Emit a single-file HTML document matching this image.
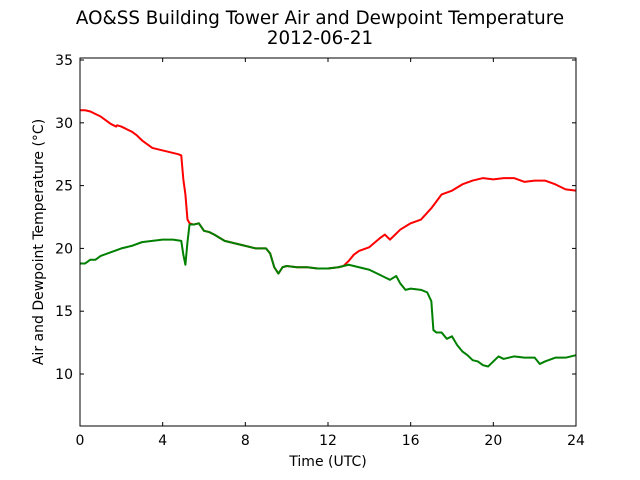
<!DOCTYPE html>
<html><head><meta charset="utf-8"><style>
body{margin:0;background:#fff}
svg{display:block;font-family:"DejaVu Sans","Liberation Sans",sans-serif}
</style></head><body>
<svg id="chart" width="640" height="480">
<rect width="640" height="480" fill="#fff"/>
<text x="320" y="24" text-anchor="middle" font-size="18.3">AO&amp;SS Building Tower Air and Dewpoint Temperature</text>
<text x="320" y="44" text-anchor="middle" font-size="18.3">2012-06-21</text>
<g id="plot"></g>
<text x="328" y="466" text-anchor="middle" font-size="14">Time (UTC)</text>
<text transform="translate(43,242) rotate(-90)" text-anchor="middle" font-size="14">Air and Dewpoint Temperature (°C)</text>
</svg>
<script>
const xTicks=[0,4,8,12,16,20,24];
const yTicks=[10,15,20,25,30,35];
const airTime=[0,0.25,0.5,0.75,1,1.25,1.5,1.75,1.8,2,2.25,2.5,2.75,3,3.25,3.5,3.75,4,4.25,4.5,4.75,4.9,5,5.1,5.2,5.3,5.5,5.75,6,6.25,6.5,7,7.5,8,8.5,9,9.2,9.4,9.6,9.8,10,10.5,11,11.5,12,12.5,12.75,13,13.25,13.5,14,14.5,14.75,15,15.5,16,16.5,17,17.5,18,18.5,19,19.5,20,20.5,21,21.5,22,22.5,23,23.5,24];
const airTemp=[31.0,31.0,30.9,30.7,30.5,30.2,29.9,29.7,29.8,29.7,29.5,29.3,29.0,28.6,28.3,28.0,27.9,27.8,27.7,27.6,27.5,27.4,25.5,24.3,22.3,22.0,21.9,22.0,21.4,21.3,21.1,20.6,20.4,20.2,20.0,20.0,19.6,18.5,18.0,18.5,18.6,18.5,18.5,18.4,18.4,18.5,18.6,19.0,19.5,19.8,20.1,20.8,21.1,20.7,21.5,22.0,22.3,23.2,24.3,24.6,25.1,25.4,25.6,25.5,25.6,25.6,25.3,25.4,25.4,25.1,24.7,24.6];
const dewTime=[0,0.25,0.5,0.75,1,1.5,2,2.5,3,3.5,4,4.5,4.9,5,5.1,5.2,5.3,5.5,5.75,6,6.25,6.5,7,7.5,8,8.5,9,9.2,9.4,9.6,9.8,10,10.5,11,11.5,12,12.5,13,13.5,14,14.5,15,15.3,15.5,15.75,16,16.5,16.8,17,17.1,17.25,17.5,17.75,18,18.25,18.5,18.75,19,19.25,19.5,19.75,20,20.25,20.5,21,21.5,22,22.25,22.5,23,23.5,24];
const dewTemp=[18.8,18.8,19.1,19.1,19.4,19.7,20.0,20.2,20.5,20.6,20.7,20.7,20.6,19.5,18.7,20.5,21.9,21.9,22.0,21.4,21.3,21.1,20.6,20.4,20.2,20.0,20.0,19.6,18.5,18.0,18.5,18.6,18.5,18.5,18.4,18.4,18.5,18.7,18.5,18.3,17.9,17.5,17.8,17.2,16.7,16.8,16.7,16.5,15.8,13.5,13.3,13.3,12.8,13.0,12.3,11.8,11.5,11.1,11.0,10.7,10.6,11.0,11.4,11.2,11.4,11.3,11.3,10.8,11.0,11.3,11.3,11.5];
const L=80,R=576,T=58,B=426,xmin=0,xmax=24,ymin=5.86,ymax=35.16;
const sx=v=>L+(v-xmin)/(xmax-xmin)*(R-L);
const sy=v=>B-(v-ymin)/(ymax-ymin)*(B-T);
const NS="http://www.w3.org/2000/svg";
const g=document.getElementById('plot');
function mk(t,a){const e=document.createElementNS(NS,t);for(const k in a)e.setAttribute(k,a[k]);g.appendChild(e);return e;}
function line(xs,ys,c,name){
  const p=mk('polyline',{points:xs.map((x,i)=>sx(x)+','+sy(ys[i])).join(' '),fill:'none',stroke:c,'stroke-width':2,'stroke-linejoin':'round'});
  
  
}
line(airTime,airTemp,'#ff0000','air-temperature-line');
line(dewTime,dewTemp,'#008000','dewpoint-line');
const fr=mk('rect',{x:L,y:T,width:R-L,height:B-T,fill:'none',stroke:'#000','stroke-width':1});


xTicks.forEach(v=>{
  const x=sx(v);
  mk('line',{x1:x,x2:x,y1:B,y2:B-4,stroke:'#000'});
  mk('line',{x1:x,x2:x,y1:T,y2:T+4,stroke:'#000'});
  const t=mk('text',{x:x,y:B+19,'text-anchor':'middle','font-size':14});
  t.textContent=v;
  
  
});
yTicks.forEach(v=>{
  const y=sy(v);
  mk('line',{x1:L,x2:L+4,y1:y,y2:y,stroke:'#000'});
  mk('line',{x1:R,x2:R-4,y1:y,y2:y,stroke:'#000'});
  const t=mk('text',{x:L-7,y:y+5,'text-anchor':'end','font-size':14});
  t.textContent=v;
  
  
});
</script>
</body></html>
